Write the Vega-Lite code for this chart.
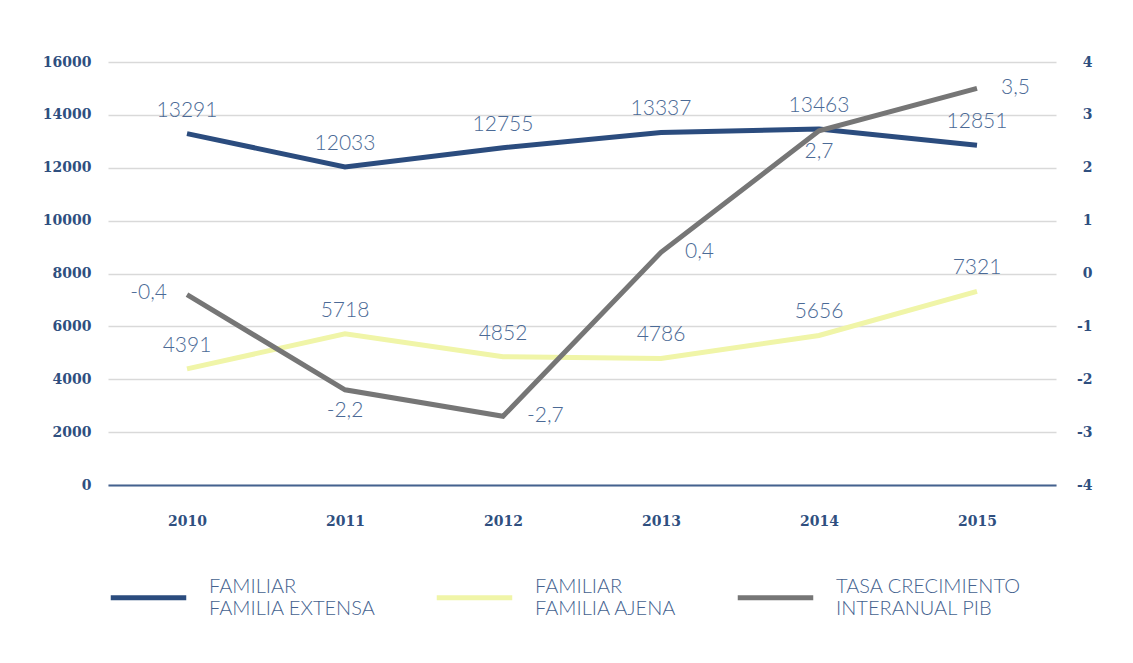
{
  "$schema": "https://vega.github.io/schema/vega-lite/v6.json",
  "width": 948,
  "height": 423,
  "padding": {"left": 42, "top": 55, "right": 5, "bottom": 5},
  "background": "white",
  "config": {
    "view": {"stroke": null},
    "locale": {"number": {"decimal": ",", "thousands": ".", "grouping": [3], "currency": ["", " €"], "minus": "-"}},
    "axis": {"labelFont": "DejaVu Serif", "labelFontWeight": "bold", "labelFontSize": 14, "labelColor": "#2F4F7F", "title": null, "ticks": false}
  },
  "data": {"values": [
    {"year": "2010", "serie": "FAMILIAR FAMILIA EXTENSA", "valor": 13291},
    {"year": "2011", "serie": "FAMILIAR FAMILIA EXTENSA", "valor": 12033},
    {"year": "2012", "serie": "FAMILIAR FAMILIA EXTENSA", "valor": 12755},
    {"year": "2013", "serie": "FAMILIAR FAMILIA EXTENSA", "valor": 13337},
    {"year": "2014", "serie": "FAMILIAR FAMILIA EXTENSA", "valor": 13463},
    {"year": "2015", "serie": "FAMILIAR FAMILIA EXTENSA", "valor": 12851},
    {"year": "2010", "serie": "FAMILIAR FAMILIA AJENA", "valor": 4391},
    {"year": "2011", "serie": "FAMILIAR FAMILIA AJENA", "valor": 5718},
    {"year": "2012", "serie": "FAMILIAR FAMILIA AJENA", "valor": 4852},
    {"year": "2013", "serie": "FAMILIAR FAMILIA AJENA", "valor": 4786},
    {"year": "2014", "serie": "FAMILIAR FAMILIA AJENA", "valor": 5656},
    {"year": "2015", "serie": "FAMILIAR FAMILIA AJENA", "valor": 7321},
    {"year": "2010", "serie": "TASA CRECIMIENTO INTERANUAL PIB", "valor": -0.4},
    {"year": "2011", "serie": "TASA CRECIMIENTO INTERANUAL PIB", "valor": -2.2},
    {"year": "2012", "serie": "TASA CRECIMIENTO INTERANUAL PIB", "valor": -2.7},
    {"year": "2013", "serie": "TASA CRECIMIENTO INTERANUAL PIB", "valor": 0.4},
    {"year": "2014", "serie": "TASA CRECIMIENTO INTERANUAL PIB", "valor": 2.7},
    {"year": "2015", "serie": "TASA CRECIMIENTO INTERANUAL PIB", "valor": 3.5}
  ]},
  "encoding": {
    "x": {"field": "year", "type": "ordinal", "scale": {"type": "point", "padding": 0.5},
      "axis": {"labelAngle": 0, "labelPadding": 29, "domain": true, "domainColor": "#44628F", "domainWidth": 2, "grid": false}}
  },
  "layer": [
    {
      "transform": [{"filter": "datum.serie != 'TASA CRECIMIENTO INTERANUAL PIB'"}],
      "encoding": {
        "y": {"field": "valor", "type": "quantitative", "scale": {"domain": [0, 16000], "nice": false},
          "axis": {"orient": "left", "values": [0, 2000, 4000, 6000, 8000, 10000, 12000, 14000, 16000], "format": "d", "domain": false, "grid": true, "gridColor": "#D9D9D9", "gridWidth": 1.5, "labelPadding": 17}}
      },
      "layer": [
        {"mark": {"type": "line", "strokeWidth": 5},
         "encoding": {"color": {"field": "serie", "type": "nominal",
           "scale": {"domain": ["FAMILIAR FAMILIA EXTENSA", "FAMILIAR FAMILIA AJENA", "TASA CRECIMIENTO INTERANUAL PIB"], "range": ["#2B4C7E", "#F0F5A8", "#767676"]},
           "legend": {"orient": "bottom", "direction": "horizontal", "title": null, "symbolType": "stroke", "symbolStrokeWidth": 5, "symbolSize": 5700,
             "labelFont": "Lato", "labelFontWeight": 300, "labelFontSize": 20, "labelColor": "#44628F", "labelOffset": 20, "labelLimit": 400,
             "labelBaseline": "line-bottom",
             "columnPadding": 50, "offset": 29,
             "labelExpr": "datum.label == 'FAMILIAR FAMILIA EXTENSA' ? ['FAMILIAR', 'FAMILIA EXTENSA'] : datum.label == 'FAMILIAR FAMILIA AJENA' ? ['FAMILIAR', 'FAMILIA AJENA'] : ['TASA CRECIMIENTO', 'INTERANUAL PIB']"}}}},
        {"mark": {"type": "text", "dy": -23, "font": "Lato", "fontWeight": 300, "fontSize": 21, "color": "#4B6A96"},
         "encoding": {"text": {"field": "valor", "type": "quantitative", "format": "d"}}}
      ]
    },
    {
      "transform": [{"filter": "datum.serie == 'TASA CRECIMIENTO INTERANUAL PIB'"}],
      "encoding": {
        "y": {"field": "valor", "type": "quantitative", "scale": {"domain": [-4, 4], "nice": false},
          "axis": {"orient": "right", "values": [-4, -3, -2, -1, 0, 1, 2, 3, 4], "format": "d", "domain": false, "grid": false, "labelAlign": "right", "labelPadding": 36}}
      },
      "layer": [
        {"mark": {"type": "line", "strokeWidth": 5},
         "encoding": {"color": {"field": "serie", "type": "nominal"}}},
        {"transform": [{"filter": "datum.year == '2010'"}],
         "mark": {"type": "text", "align": "right", "dx": -20, "dy": -2, "font": "Lato", "fontWeight": 300, "fontSize": 21, "color": "#4B6A96"},
         "encoding": {"text": {"field": "valor", "type": "quantitative", "format": ".1f"}}},
        {"transform": [{"filter": "datum.year == '2011' || datum.year == '2014'"}],
         "mark": {"type": "text", "dy": 21, "font": "Lato", "fontWeight": 300, "fontSize": 21, "color": "#4B6A96"},
         "encoding": {"text": {"field": "valor", "type": "quantitative", "format": ".1f"}}},
        {"transform": [{"filter": "datum.year == '2012' || datum.year == '2013' || datum.year == '2015'"}],
         "mark": {"type": "text", "align": "left", "dx": 24, "dy": 0, "font": "Lato", "fontWeight": 300, "fontSize": 21, "color": "#4B6A96"},
         "encoding": {"text": {"field": "valor", "type": "quantitative", "format": ".1f"}}}
      ]
    }
  ],
  "resolve": {"scale": {"y": "independent"}}
}
